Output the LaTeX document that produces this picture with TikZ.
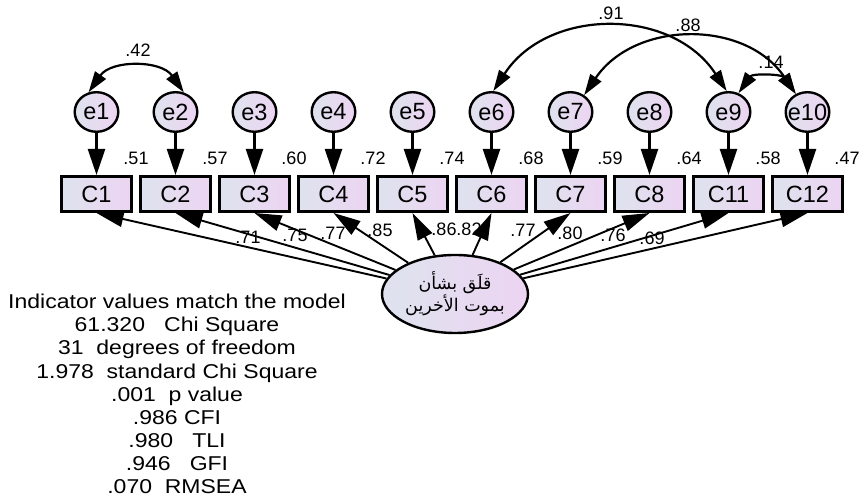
\documentclass[tikz,border=0pt]{standalone}
\usepackage{fontspec}
\setmainfont{Liberation Sans}
\newfontfamily\arabicfont[Script=Arabic]{DejaVu Sans}
\newfontfamily\statfont[FakeStretch=1.15]{Liberation Sans}
\TeXXeTstate=1
\usepackage{tikz}
\usetikzlibrary{arrows.meta,positioning,shapes.geometric,calc}
\definecolor{shadeL}{RGB}{222,227,238}
\definecolor{shadeR}{RGB}{237,212,242}

\begin{document}
\begin{tikzpicture}[x=1pt, y=1pt, node distance=6pt]
\tikzstyle{observed}=[rectangle,
                      draw=black,
                      line width=2.8pt,
                      left color=shadeL, right color=shadeR,
                      minimum width=70.2pt, minimum height=35.2pt,
                      inner sep=0pt,
                      font=\fontsize{23.5}{23.5}\selectfont]
\tikzstyle{error}=[ellipse,
                   draw=black,
                   line width=2.4pt,
                   left color=shadeL, right color=shadeR,
                   minimum width=43.6pt, minimum height=39.6pt,
                   inner sep=-5pt,
                   font=\fontsize{23.5}{23.5}\selectfont]
\tikzstyle{latent}=[ellipse,
                    draw=black,
                    line width=2.4pt,
                    left color=shadeL, right color=shadeR,
                    minimum width=146pt, minimum height=78pt,
                    inner sep=0pt, align=center,
                    font=\arabicfont\fontsize{17.5}{22}\selectfont]
\tikzstyle{coef}=[inner sep=0pt, font=\fontsize{18}{18}\selectfont]
\tikzstyle{stats}=[align=center, inner sep=0pt,
                   font=\statfont\fontsize{20}{23.1}\selectfont]
\tikzstyle{resid}=[line width=2.4pt, -{Triangle[length=26pt,width=17pt]}]
\tikzstyle{load}=[line width=1.9pt, -{Triangle[length=27pt,width=16pt]}]
\tikzstyle{cov}=[line width=2.2pt, {Triangle[length=21pt,width=13pt]}-{Triangle[length=21pt,width=13pt]}]
\useasboundingbox (0,0) rectangle (862,502);

\node[observed] (C1) at (96.5,308) {C1};
\node[observed, right=of C1] (C2) {C2};
\node[observed, right=of C2] (C3) {C3};
\node[observed, right=of C3] (C4) {C4};
\node[observed, right=of C4] (C5) {C5};
\node[observed, right=of C5] (C6) {C6};
\node[observed, right=of C6] (C7) {C7};
\node[observed, right=of C7] (C8) {C8};
\node[observed, right=of C8] (C11) {C11};
\node[observed, right=of C11] (C12) {C12};

\node[error, above=42pt of C1] (e1) {e1};
\node[error, above=42pt of C2] (e2) {e2};
\node[error, above=42pt of C3] (e3) {e3};
\node[error, above=42pt of C4] (e4) {e4};
\node[error, above=42pt of C5] (e5) {e5};
\node[error, above=42pt of C6] (e6) {e6};
\node[error, above=42pt of C7] (e7) {e7};
\node[error, above=42pt of C8] (e8) {e8};
\node[error, above=42pt of C11] (e9) {e9};
\node[error, above=42pt of C12] (e10) {e10};

\node[latent] (anx) at (455,208)
  {\beginR قلَق بشأن\endR\\\beginR بموت الأخرين\endR};

% squared multiple correlations
\node[coef] at ($(C1.north east)+(3,17)$) (r1) {.51};
\node[coef] at ($(C2.north east)+(3,17)$) (r2) {.57};
\node[coef] at ($(C3.north east)+(3,17)$) (r3) {.60};
\node[coef] at ($(C4.north east)+(3,17)$) (r4) {.72};
\node[coef] at ($(C5.north east)+(3,17)$) (r5) {.74};
\node[coef] at ($(C6.north east)+(3,17)$) (r6) {.68};
\node[coef] at ($(C7.north east)+(3,17)$) (r7) {.59};
\node[coef] at ($(C8.north east)+(3,17)$) (r8) {.64};
\node[coef] at ($(C11.north east)+(3,17)$) (r9) {.58};
\node[coef] at ($(C12.north east)+(3,17)$) (r10) {.47};

% loadings
\node[coef] at (248,265) (l1) {.71};
\node[coef] at (295,267) (l2) {.75};
\node[coef] at (333,269) (l3) {.77};
\node[coef] at (380,272) (l4) {.85};
\node[coef] at (444,273) (l5) {.86};
\node[coef] at (469,273) (l6) {.82};
\node[coef] at (523,272) (l7) {.77};
\node[coef] at (570,269) (l8) {.80};
\node[coef] at (613,267) (l9) {.76};
\node[coef] at (652,264) (l10) {.69};

% covariances
\node[coef] at (138,452) (c12) {.42};
\node[coef] at (611,489) (c69) {.91};
\node[coef] at (688,477) (c710) {.88};
\node[coef] at (771,440) (c910) {.14};

\path[resid]
(e1) edge (C1)
(e2) edge (C2)
(e3) edge (C3)
(e4) edge (C4)
(e5) edge (C5)
(e6) edge (C6)
(e7) edge (C7)
(e8) edge (C8)
(e9) edge (C11)
(e10) edge (C12);

\path[load]
(anx) edge (C1.south)
(anx) edge (C2.south)
(anx) edge (C3.south)
(anx) edge (C4.south)
(anx) edge (C5.south)
(anx) edge (C6.south)
(anx) edge (C7.south)
(anx) edge (C8.south)
(anx) edge (C11.south)
(anx) edge (C12.south);

\draw[cov] (e1.112) to[out=55, in=125, looseness=1.07] (e2.67);
\draw[cov] (e6.85) to[out=57, in=123, looseness=1.1] (e9.95);
\draw[cov] (e7.51) to[out=56, in=124, looseness=1.09] (e10.123);
\draw[cov] (e9.62) to[out=55, in=125, looseness=1.08] (e10.123);

\node[stats] (fitinfo) at (177,108)
  {Indicator values match the model\\
   61.320\ \ \ Chi Square\\
   31\ \ degrees of freedom\\
   1.978\ \ standard Chi Square\\
   .001\ \ p value\\
   .986 CFI\\
   .980\ \ \ TLI\\
   .946\ \ \ GFI\\
   .070\ \ RMSEA};
\end{tikzpicture}
\end{document}
